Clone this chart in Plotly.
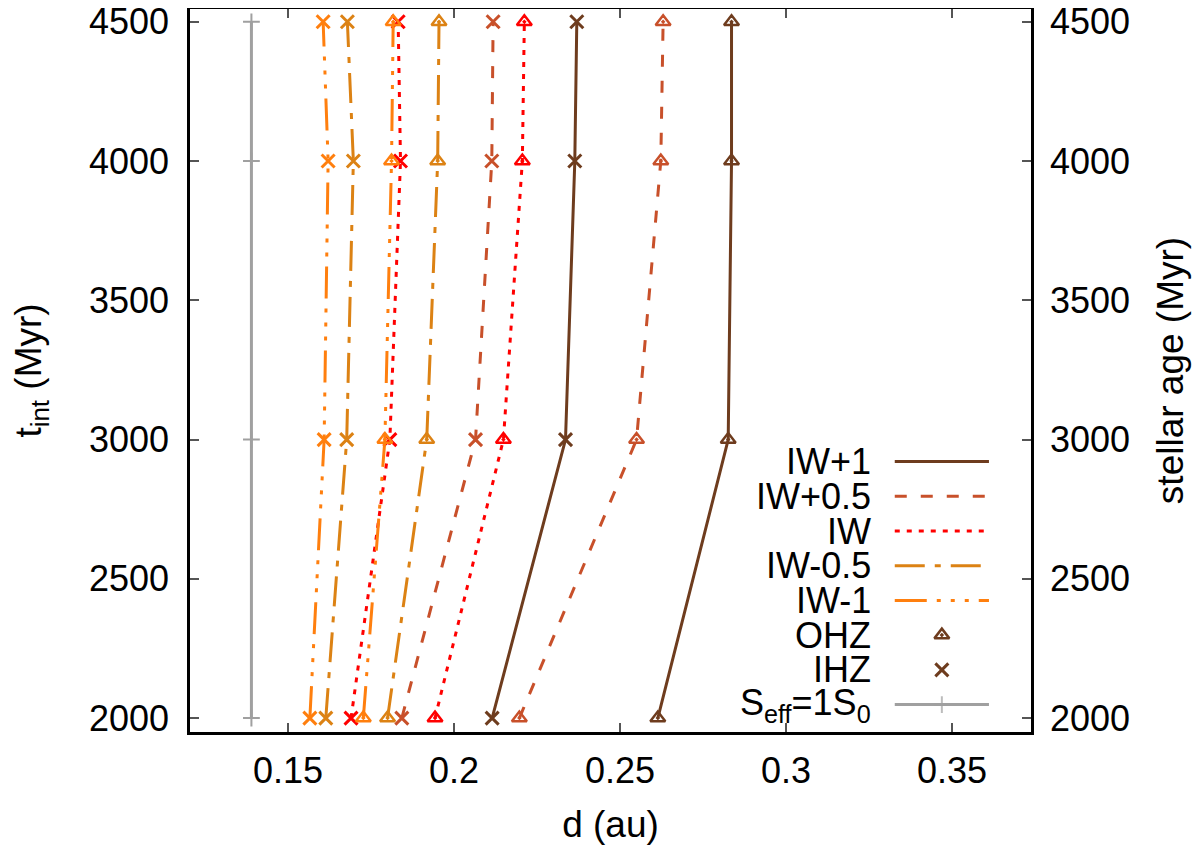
import plotly.graph_objects as go

# integration time (Myr) at which the HZ edges were computed
t_int = [2000, 3000, 4000, 4500]

# inner (IHZ) and outer (OHZ) habitable zone edge, d in au
ihz_iw_p1 = [0.2115, 0.2336, 0.2364, 0.2370]
ohz_iw_p1 = [0.2614, 0.2826, 0.2836, 0.2836]
ihz_iw_p05 = [0.1843, 0.2065, 0.2114, 0.2118]
ohz_iw_p05 = [0.2197, 0.2550, 0.2623, 0.2630]
ihz_iw = [0.1690, 0.1807, 0.1839, 0.1832]
ohz_iw = [0.1943, 0.2149, 0.2206, 0.2212]
ihz_iw_m05 = [0.1614, 0.1677, 0.1697, 0.1679]
ohz_iw_m05 = [0.1800, 0.1918, 0.1951, 0.1955]
ihz_iw_m1 = [0.1566, 0.1609, 0.1621, 0.1606]
ohz_iw_m1 = [0.1727, 0.1792, 0.1812, 0.1817]
seff_1 = [0.139, 0.139, 0.139, 0.139]

tick_y = [2000, 2500, 3000, 3500, 4000, 4500]
tick_x = [0.15, 0.2, 0.25, 0.3, 0.35]
tick_x_text = ['0.15', '0.2', '0.25', '0.3', '0.35']

FONT = 'Liberation Sans, Arial, sans-serif'
FS = 36
FS_TITLE = 37
BROWN = '#6e3c1e'
GRAY = '#a0a0a0'

# label, colour, dash, IHZ, OHZ
series = [
    ('IW+1', BROWN, 'solid', ihz_iw_p1, ohz_iw_p1),
    ('IW+0.5', '#c8502a', '12px,14px', ihz_iw_p05, ohz_iw_p05),
    ('IW', '#ff0000', '5px,7px', ihz_iw, ohz_iw),
    ('IW-0.5', '#dc8214', '30px,10px,6px,10px', ihz_iw_m05, ohz_iw_m05),
    ('IW-1', '#ff7f0e', '32px,10px,4px,10px,4px,10px,4px,10px', ihz_iw_m1, ohz_iw_m1),
]

fig = go.Figure()

# Seff line sits on the right-hand axis (same range) so that axis gets drawn
fig.add_trace(go.Scatter(x=seff_1, y=t_int, mode='lines+markers', line=dict(color=GRAY, width=3),
                         marker=dict(symbol='cross-thin-open', size=12, color=GRAY, line=dict(color=GRAY, width=2)),
                         yaxis='y2', showlegend=False))

for name, color, dash, ihz, ohz in series:
    fig.add_trace(go.Scatter(x=ihz, y=t_int, mode='lines+markers', line=dict(color=color, width=3, dash=dash),
                             marker=dict(symbol='x-thin-open', size=13, color=color, line=dict(color=color, width=3)),
                             showlegend=False))
    fig.add_trace(go.Scatter(x=ohz, y=t_int, mode='lines+markers', line=dict(color=color, width=3, dash=dash),
                             marker=dict(symbol='triangle-up-open-dot', size=13, color=color,
                                         line=dict(color=color, width=2.5)),
                             showlegend=False))

# gnuplot-style key (text left of sample) on an overlay axis in [0,1]
key_x0, key_x1, key_text = 0.838, 0.950, 0.812
key_rows = [0.374, 0.326, 0.278, 0.230, 0.182, 0.134, 0.086, 0.038]
for i, (name, color, dash, ihz, ohz) in enumerate(series):
    fig.add_trace(go.Scatter(x=[key_x0, key_x1], y=[key_rows[i]] * 2, mode='lines',
                             line=dict(color=color, width=3, dash=dash), xaxis='x3', yaxis='y3',
                             showlegend=False, hoverinfo='skip'))
key_mid = (key_x0 + key_x1) / 2
fig.add_trace(go.Scatter(x=[key_mid], y=[key_rows[5]], mode='markers', xaxis='x3', yaxis='y3',
                         marker=dict(symbol='triangle-up-open-dot', size=13, color=BROWN,
                                     line=dict(color=BROWN, width=2.5)),
                         showlegend=False, hoverinfo='skip'))
fig.add_trace(go.Scatter(x=[key_mid], y=[key_rows[6]], mode='markers', xaxis='x3', yaxis='y3',
                         marker=dict(symbol='x-thin-open', size=13, color=BROWN, line=dict(color=BROWN, width=3)),
                         showlegend=False, hoverinfo='skip'))
fig.add_trace(go.Scatter(x=[key_x0, key_mid, key_x1], y=[key_rows[7]] * 3, mode='lines+markers',
                         xaxis='x3', yaxis='y3', line=dict(color=GRAY, width=3),
                         marker=dict(symbol='cross-thin-open', size=[0, 12, 0], color=GRAY,
                                     line=dict(color=GRAY, width=2)),
                         showlegend=False, hoverinfo='skip'))

key_labels = ['IW+1', 'IW+0.5', 'IW', 'IW-0.5', 'IW-1', 'OHZ', 'IHZ', 'S<sub>eff</sub>=1S<sub>0</sub>']
for lab, yy in zip(key_labels, key_rows):
    fig.add_annotation(x=key_text, y=yy, xref='paper', yref='paper', text=lab, showarrow=False,
                       xanchor='right', yanchor='middle', font=dict(size=FS, color='black', family=FONT))

# automargin off: the template would otherwise push the top margin for the 4500 label
axis_common = dict(showline=True, linecolor='black', linewidth=2.5, ticks='inside', ticklen=9,
                   tickwidth=1.5, tickcolor='#555555', showgrid=False, zeroline=False, automargin=False,
                   ticklabeloverflow='allow', tickfont=dict(size=FS, color='black', family=FONT))

y_range = [1950, 4546]

# page body has an 8px margin, so the figure is 8px smaller than the window
fig.update_layout(
    width=1192, height=837,
    margin=dict(l=182, r=169, t=1, b=113),
    plot_bgcolor='white', paper_bgcolor='white',
    font=dict(family=FONT, size=FS, color='black'),
    xaxis=dict(range=[0.1205, 0.3738], tickvals=tick_x, ticktext=tick_x_text, mirror='ticks',
               title=dict(text='d (au)', standoff=22, font=dict(size=FS_TITLE)), ticklabelstandoff=5,
               **axis_common),
    yaxis=dict(range=y_range, tickvals=tick_y, mirror=True, ticklabelstandoff=11,
               title=dict(text='t<sub>int</sub> (Myr)', standoff=56, font=dict(size=FS_TITLE)),
               **axis_common),
    yaxis2=dict(range=y_range, tickvals=tick_y, overlaying='y', side='right', ticklabelstandoff=9,
                title=dict(text='stellar age (Myr)', standoff=29, font=dict(size=FS_TITLE)),
                **axis_common),
    xaxis3=dict(range=[0, 1], overlaying='x', visible=False),
    yaxis3=dict(range=[0, 1], overlaying='y', visible=False),
)

fig.write_html("out.html")
